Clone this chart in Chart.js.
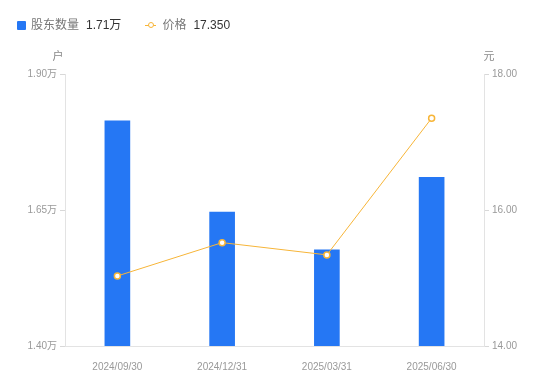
<!DOCTYPE html>
<html><head><meta charset="utf-8">
<script src="https://cdn.jsdelivr.net/npm/chart.js@4"></script>
<style>
html,body{margin:0;padding:0;background:#fff;width:550px;height:381px;overflow:hidden;font-family:Helvetica,Arial,"Liberation Sans","Noto Sans CJK SC",sans-serif;}
#wrap{position:relative;width:550px;height:381px;}
#legend{position:absolute;left:17px;top:17px;font-size:12px;line-height:16px;display:flex;align-items:center;white-space:nowrap;}
.sq{display:inline-block;width:9px;height:9px;background:#2577F4;border-radius:1px;margin-right:5px;}
.lk{color:#777;margin-right:7px;}
.lv{color:#333;}
.ln{position:relative;display:inline-block;width:11px;height:9px;margin-right:6px;margin-left:24px;}
.ln:before{content:"";position:absolute;left:0;right:0;top:4px;height:1px;background:#F7B538;}
.ln:after{content:"";position:absolute;left:2.5px;top:1.5px;width:4px;height:4px;border:1.5px solid #F7B538;border-radius:50%;background:#fff;}
</style></head>
<body><div id="wrap"><canvas id="c" width="550" height="381"></canvas>
<div id="legend"><span class="sq"></span><span class="lk">股东数量</span><span class="lv">1.71万</span><span class="ln"></span><span class="lk">价格</span><span class="lv">17.350</span></div></div>
<script>
const categories = ["2024/09/30","2024/12/31","2025/03/31","2025/06/30"];
const holders = [1.814, 1.646, 1.577, 1.710];
const prices = [15.03, 15.52, 15.34, 17.35];
const leftTicks = [1.40, 1.65, 1.90];
const rightTicks = [14, 16, 18];
const leftUnit = "户";
const rightUnit = "元";

const fontFam = 'Helvetica, Arial, "Liberation Sans", "Noto Sans CJK SC", sans-serif';
const unitPlugin = {
  id:'units',
  afterDraw(chart){
    const ctx = chart.ctx, a = chart.chartArea;
    ctx.save();
    ctx.fillStyle = '#888';
    ctx.font = '11px ' + fontFam;
    ctx.textAlign = 'center';
    ctx.textBaseline = 'middle';
    ctx.fillText(leftUnit, a.left - 7, 57);
    ctx.fillText(rightUnit, a.right + 5, 57);
    ctx.restore();
  }
};

new Chart(document.getElementById('c'), {
  data: {
    labels: categories,
    datasets: [
      {type:'line', label:'价格', data: prices, yAxisID:'y1', order:0,
       borderColor:'#F7B538', borderWidth:1, pointRadius:3, pointBorderWidth:1.5,
       pointBackgroundColor:'#fff', pointBorderColor:'#F7B538', tension:0},
      {type:'bar', label:'股东数量', data: holders, yAxisID:'y', order:1,
       backgroundColor:'#2577F4', barThickness:25}
    ]
  },
  options: {
    responsive:false, animation:false, devicePixelRatio:1,
    layout:{padding:{top:74,left:0,right:0,bottom:0}},
    plugins:{legend:{display:false}, tooltip:{enabled:false}},
    scales:{
      x:{
        grid:{display:false},
        border:{display:true,color:'#e3e3e3'},
        ticks:{color:'#999',font:{size:10,family:fontFam},padding:7,maxRotation:0},
        afterFit(s){s.height = 35;}
      },
      y:{
        position:'left', min:1.40, max:1.90,
        afterBuildTicks(s){ s.ticks = leftTicks.map(v=>({value:v})); },
        grid:{drawOnChartArea:false, drawTicks:true, tickLength:5, color:'#d8d8d8'},
        border:{display:true,color:'#e3e3e3'},
        ticks:{color:'#999',font:{size:10,family:fontFam},padding:3,callback:v=>v.toFixed(2)+'万'},
        afterFit(s){s.width = 65;}
      },
      y1:{
        position:'right', min:14, max:18,
        afterBuildTicks(s){ s.ticks = rightTicks.map(v=>({value:v})); },
        grid:{drawOnChartArea:false, drawTicks:true, tickLength:5, color:'#d8d8d8'},
        border:{display:true,color:'#e3e3e3'},
        ticks:{color:'#999',font:{size:10,family:fontFam},padding:3,callback:v=>v.toFixed(2)},
        afterFit(s){s.width = 66;}
      }
    }
  },
  plugins:[unitPlugin]
});
</script></body></html>
